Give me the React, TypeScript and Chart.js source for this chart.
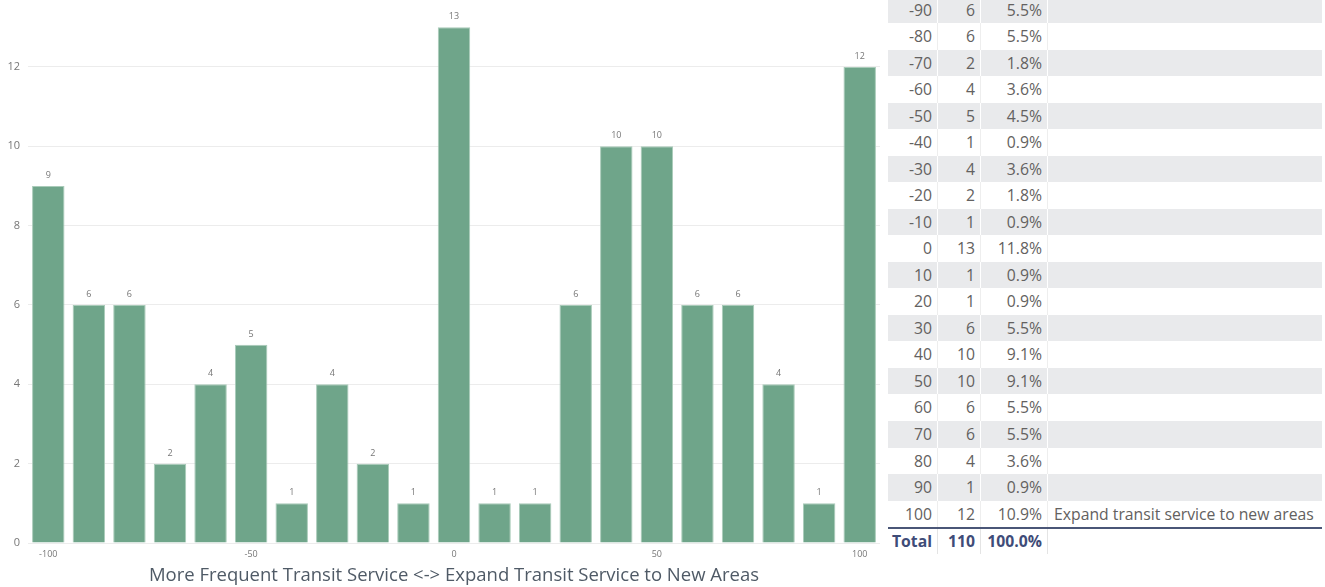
import React, { useEffect, useRef } from "react";
import { Chart, registerables } from "chart.js";

Chart.register(...registerables);

const categories = [-100, -90, -80, -70, -60, -50, -40, -30, -20, -10, 0, 10, 20, 30, 40, 50, 60, 70, 80, 90, 100];
const counts = [9, 6, 6, 2, 4, 5, 1, 4, 2, 1, 13, 1, 1, 6, 10, 10, 6, 6, 4, 1, 12];
const yTickValues = [0, 2, 4, 6, 8, 10, 12];
const xTickLabels = [-100, -50, 0, 50, 100];
const axisTitle = "More Frequent Transit Service <-> Expand Transit Service to New Areas";

const tableValues = [-90, -80, -70, -60, -50, -40, -30, -20, -10, 0, 10, 20, 30, 40, 50, 60, 70, 80, 90, 100];
const tableCounts = [6, 6, 2, 4, 5, 1, 4, 2, 1, 13, 1, 1, 6, 10, 10, 6, 6, 4, 1, 12];
const tablePercents = ["5.5%", "5.5%", "1.8%", "3.6%", "4.5%", "0.9%", "3.6%", "1.8%", "0.9%", "11.8%", "0.9%", "0.9%", "5.5%", "9.1%", "9.1%", "5.5%", "5.5%", "3.6%", "0.9%", "10.9%"];
const tableNotes = ["", "", "", "", "", "", "", "", "", "", "", "", "", "", "", "", "", "", "", "Expand transit service to new areas"];
const totalRow = ["Total", "110", "100.0%", ""];

const FONT = '"Open Sans", "Noto Sans", sans-serif';
const BAR = "#6fa58a";

const valueLabels = {
  id: "valueLabels",
  afterDatasetsDraw(chart: any) {
    const ctx = chart.ctx;
    const meta = chart.getDatasetMeta(0);
    const data = chart.data.datasets[0].data;
    ctx.save();
    ctx.font = `9px ${FONT}`;
    ctx.fillStyle = "#777";
    ctx.textAlign = "center";
    ctx.textBaseline = "bottom";
    meta.data.forEach((bar: any, i: number) => {
      ctx.fillText(String(data[i]), bar.x, bar.y - 6);
    });
    ctx.restore();
  },
};

function BarChart() {
  const ref = useRef<HTMLCanvasElement>(null);
  useEffect(() => {
    if (!ref.current) return;
    const chart = new Chart(ref.current, {
      type: "bar",
      data: {
        labels: categories.map(String),
        datasets: [
          {
            data: counts,
            backgroundColor: BAR,
            borderColor: "#a9cbb9",
            borderWidth: 1,
            categoryPercentage: 1,
            barPercentage: 0.8,
          },
        ],
      },
      options: {
        responsive: false,
        animation: false,
        layout: { padding: { left: 0, right: 4, top: 0, bottom: 0 } },
        plugins: { legend: { display: false }, tooltip: { enabled: false } },
        scales: {
          x: {
            grid: { display: false, drawTicks: false },
            border: { display: false },
            ticks: {
              autoSkip: false,
              maxRotation: 0,
              color: "#777",
              font: { family: FONT, size: 9 },
              padding: 6,
              callback: (_v: any, idx: number) =>
                xTickLabels.includes(categories[idx]) ? String(categories[idx]) : "",
            },
            title: {
              display: true,
              text: axisTitle,
              color: "#4f5a66",
              font: { family: FONT, size: 18.5 },
              padding: { top: 0, bottom: 0 },
            },
            afterFit: (s: any) => {
              s.height = 44;
            },
          },
          y: {
            min: 0,
            max: 13.32,
            grid: { color: "#ececec", drawTicks: false },
            border: { display: false },
            ticks: {
              color: "#777",
              font: { family: FONT, size: 11 },
              padding: 8,
            },
            afterBuildTicks: (s: any) => {
              s.ticks = yTickValues.map((v) => ({ value: v }));
            },
            afterFit: (s: any) => {
              s.width = 28;
            },
          },
        },
      },
      plugins: [valueLabels],
    } as any);
    return () => chart.destroy();
  }, []);
  return <canvas ref={ref} width={884} height={587} style={{ display: "block" }} />;
}

const ROW_H = 26.53;

function Cell({ w, align, children, sep, style }: any) {
  return (
    <div
      style={{
        width: w,
        flex: w ? "none" : "1",
        textAlign: align,
        paddingRight: align === "right" ? 5 : 0,
        paddingLeft: align === "left" ? 6 : 0,
        boxSizing: "border-box",
        borderRight: sep ? `1px solid ${sep}` : "none",
        whiteSpace: "nowrap",
        overflow: "hidden",
        height: "100%",
        lineHeight: `${ROW_H}px`,
        ...style,
      }}
    >
      {children}
    </div>
  );
}

function DataTable() {
  return (
    <div
      style={{
        position: "absolute",
        left: 888,
        top: -3.25,
        width: 434,
        fontFamily: FONT,
        fontSize: 15.75,
        color: "#636160",
      }}
    >
      {tableValues.map((v, i) => {
        const grey = i % 2 === 0;
        const sep = grey ? "#ffffff" : "#eeeeee";
        return (
          <div
            key={v}
            style={{
              display: "flex",
              height: ROW_H,
              background: grey ? "#e9eaec" : "#ffffff",
            }}
          >
            <Cell w={50} align="right" sep={sep}>{v}</Cell>
            <Cell w={43} align="right" sep={sep}>{tableCounts[i]}</Cell>
            <Cell w={67} align="right" sep={sep}>{tablePercents[i]}</Cell>
            <Cell align="left">{tableNotes[i]}</Cell>
          </div>
        );
      })}
      <div
        style={{
          display: "flex",
          height: ROW_H,
          borderTop: "2px solid #4a5677",
          boxSizing: "border-box",
          fontWeight: 700,
          color: "#3f4c78",
        }}
      >
        <Cell w={50} align="right" sep="#e4e4e4" style={{ lineHeight: `${ROW_H - 2}px` }}>{totalRow[0]}</Cell>
        <Cell w={43} align="right" sep="#e4e4e4" style={{ lineHeight: `${ROW_H - 2}px` }}>{totalRow[1]}</Cell>
        <Cell w={67} align="right" sep="#e4e4e4" style={{ lineHeight: `${ROW_H - 2}px` }}>{totalRow[2]}</Cell>
        <Cell align="left">{totalRow[3]}</Cell>
      </div>
    </div>
  );
}

export default function App() {
  return (
    <div
      style={{
        position: "absolute",
        left: 0,
        top: 0,
        width: 1325,
        height: 587,
        overflow: "hidden",
        background: "#ffffff",
      }}
    >
      <div style={{ position: "absolute", left: 0, top: 0 }}>
        <BarChart />
      </div>
      <DataTable />
    </div>
  );
}
